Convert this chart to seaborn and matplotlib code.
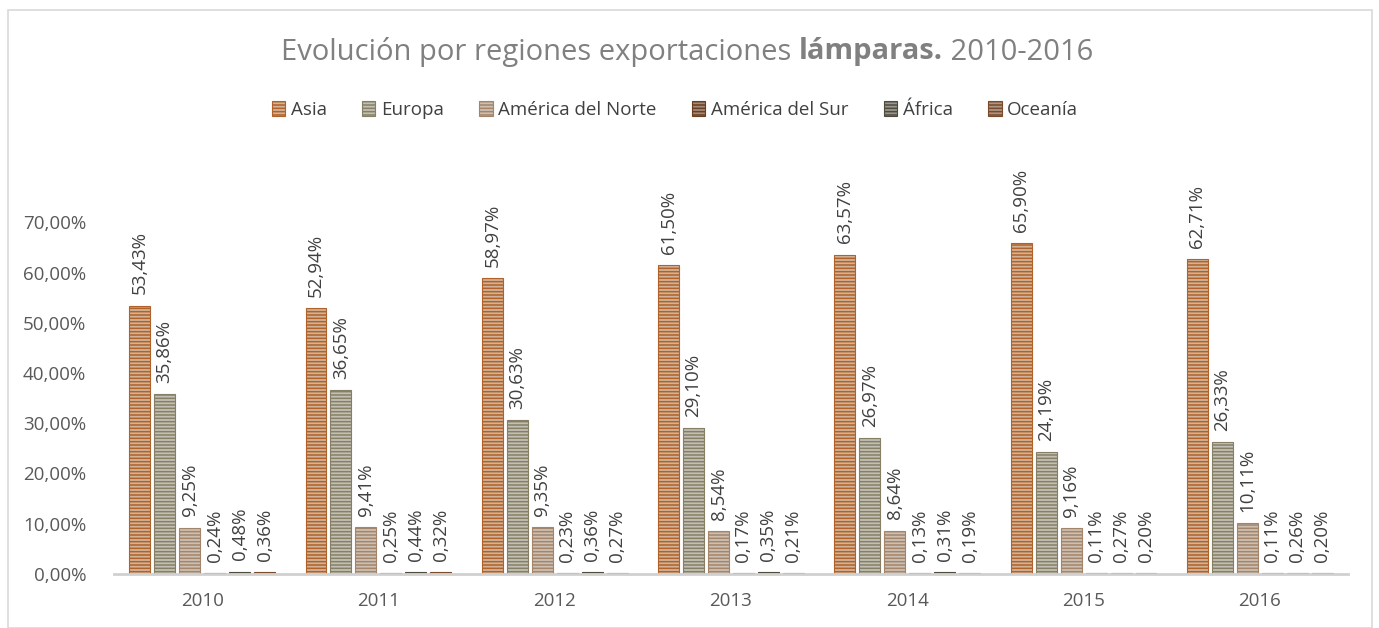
import pandas as pd
import seaborn as sns
import matplotlib.pyplot as plt
from matplotlib.ticker import FuncFormatter, MultipleLocator
from matplotlib.patches import Rectangle

years = ['2010', '2011', '2012', '2013', '2014', '2015', '2016']
regions = ['Asia', 'Europa', 'América del Norte', 'América del Sur', 'África', 'Oceanía']

asia = [53.43, 52.94, 58.97, 61.50, 63.57, 65.90, 62.71]
europa = [35.86, 36.65, 30.63, 29.10, 26.97, 24.19, 26.33]
america_norte = [9.25, 9.41, 9.35, 8.54, 8.64, 9.16, 10.11]
america_sur = [0.24, 0.25, 0.23, 0.17, 0.13, 0.11, 0.11]
africa = [0.48, 0.44, 0.36, 0.35, 0.31, 0.27, 0.26]
oceania = [0.36, 0.32, 0.27, 0.21, 0.19, 0.20, 0.20]

series = [asia, europa, america_norte, america_sur, africa, oceania]

# light base colour + darker stripe colour for each region
face_colors = ['#dcb28e', '#c4c1b2', '#d3bfae', '#a98a72', '#9a978c', '#b39580']
stripe_colors = ['#b0622a', '#857f66', '#a4856a', '#6a3e1f', '#4f4b3c', '#7a4a2a']

rows = []
for reg, vals in zip(regions, series):
    for y, v in zip(years, vals):
        rows.append({'year': y, 'region': reg, 'value': v / 100})
df = pd.DataFrame(rows)

sns.set_style('white')
plt.rcParams['font.family'] = ['Open Sans', 'DejaVu Sans']
plt.rcParams['hatch.linewidth'] = 1.1

fig = plt.figure(figsize=(13.79, 6.28), dpi=100)
ax = fig.add_axes([114 / 1379, 54 / 628, 1234 / 1379, 402 / 628])

sns.barplot(data=df, x='year', y='value', hue='region', hue_order=regions,
            palette=face_colors, width=0.85, gap=0.16, ax=ax)

for cont, sc, vals in zip(ax.containers, stripe_colors, series):
    for p in cont.patches:
        p.set_hatch('-----')
        p.set_edgecolor(sc)
        p.set_linewidth(0.8)
    ax.bar_label(cont, labels=[f"{v:.2f}%".replace('.', ',') for v in vals],
                 rotation=90, padding=8, fontsize=13.5, color='#404040')

ax.set_ylim(0, 0.8)
ax.set_xlim(-0.5, 6.5)
ax.yaxis.set_major_locator(MultipleLocator(0.1))
ax.yaxis.set_major_formatter(FuncFormatter(lambda v, p: f"{v*100:.2f}%".replace('.', ',') if v < 0.75 else ''))
ax.tick_params(axis='both', length=0, labelsize=13.5, labelcolor='#595959')
ax.tick_params(axis='y', pad=20)
ax.tick_params(axis='x', pad=13)
ax.set_xlabel('')
ax.set_ylabel('')
for s in ['top', 'right', 'left']:
    ax.spines[s].set_visible(False)
ax.spines['bottom'].set_color('#d0d0d0')
ax.spines['bottom'].set_linewidth(2)

handles = [c.patches[0] for c in ax.containers]
ax.legend(handles, regions, loc='center', bbox_to_anchor=(675 / 1379, 1 - 110 / 628),
          bbox_transform=fig.transFigure, ncol=6, frameon=False, fontsize=13.5,
          handlelength=0.7, handleheight=0.85, handletextpad=0.3, columnspacing=1.9,
          labelcolor='#404040')

# title: regular + bold + regular pieces
title_y = 1 - 52 / 628
t1 = fig.text(0.5, title_y, 'Evolución por regiones exportaciones ', fontsize=21,
              color='#808080', ha='left', va='center')
t2 = fig.text(0.5, title_y, 'lámparas.', fontsize=21, fontweight='bold',
              color='#808080', ha='left', va='center')
t3 = fig.text(0.5, title_y, ' 2010-2016', fontsize=21, color='#808080',
              ha='left', va='center')
fig.canvas.draw()
r = fig.canvas.get_renderer()
w = [t.get_window_extent(r).width for t in (t1, t2, t3)]
x0 = 687 - sum(w) / 2
t1.set_x(x0 / 1379)
t2.set_x((x0 + w[0]) / 1379)
t3.set_x((x0 + w[0] + w[1]) / 1379)

fig.patches.append(Rectangle((8 / 1379, 0), 1364 / 1379, 1 - 10 / 628, transform=fig.transFigure,
                             fill=False, edgecolor='#d9d9d9', linewidth=1.2))

fig.savefig('out.png', dpi=100)
